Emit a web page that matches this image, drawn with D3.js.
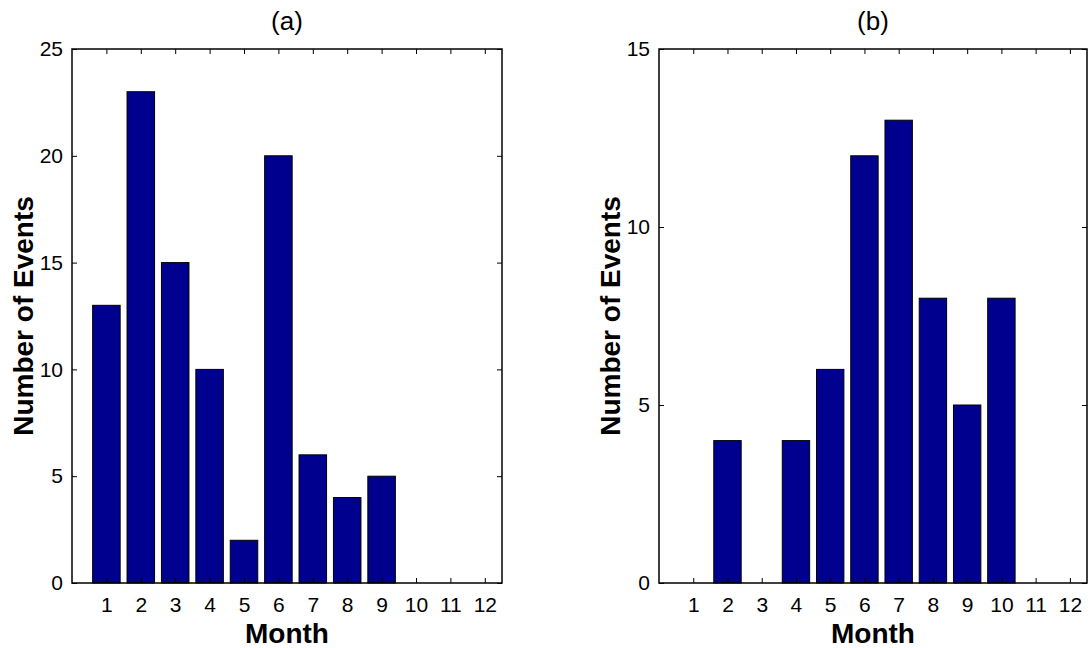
<!DOCTYPE html>
<html>
<head>
<meta charset="utf-8">
<script src="https://cdn.jsdelivr.net/npm/d3@7"></script>
<style>
  body { margin: 0; background: #fff; }
  svg { display: block; font-family: Arial, "Liberation Sans", Helvetica, sans-serif; }
</style>
</head>
<body>
<div id="chart"></div>
<script>
// data
const months = [1, 2, 3, 4, 5, 6, 7, 8, 9, 10, 11, 12];
const eventsA = [13, 23, 15, 10, 2, 20, 6, 4, 5, 0, 0, 0];
const eventsB = [0, 4, 0, 4, 6, 12, 13, 8, 5, 8, 0, 0];
const yTicksA = [0, 5, 10, 15, 20, 25];
const yTicksB = [0, 5, 10, 15];
const titles = ["(a)", "(b)"];

const width = 1091, height = 648;
const svg = d3.select("#chart").append("svg")
  .attr("width", width)
  .attr("height", height);

// one panel = one matlab-ish bar chart
function panel(opts) {
  const x = d3.scaleLinear().domain([0, 12.5]).range([opts.left, opts.right]);
  const y = d3.scaleLinear().domain([0, opts.ymax]).range([opts.bottom, opts.top]);
  const g = svg.append("g");
  const bw = x(0.8) - x(0);

  // bars
  g.selectAll(".bar").data(opts.values).enter().append("rect")
    .attr("x", (d, i) => x(months[i]) - bw / 2)
    .attr("y", d => y(d))
    .attr("width", bw)
    .attr("height", d => y(0) - y(d))
    .attr("fill", "#00008f")
    .attr("stroke", d => d === 0 ? "#777" : "#000")
    .attr("stroke-width", 1);

  const tl = 5;
  // axes: bottom/left with labels, top/right only ticks
  const xb = d3.axisBottom(x).tickValues(months).tickSize(-tl).tickPadding(14).tickFormat(d3.format("d"));
  const xt = d3.axisTop(x).tickValues(months).tickSize(-tl).tickFormat("");
  const yl = d3.axisLeft(y).tickValues(opts.yticks).tickSize(-tl).tickPadding(9);
  const yr = d3.axisRight(y).tickValues(opts.yticks).tickSize(-tl).tickFormat("");

  const ax = [
    g.append("g").attr("transform", "translate(0," + opts.bottom + ")").call(xb),
    g.append("g").attr("transform", "translate(0," + opts.top + ")").call(xt),
    g.append("g").attr("transform", "translate(" + opts.left + ",0)").call(yl),
    g.append("g").attr("transform", "translate(" + opts.right + ",0)").call(yr)
  ];
  ax.forEach(a => {
    a.attr("font-size", 21).attr("font-family", null);
    a.select(".domain").remove();
    a.selectAll(".tick line").attr("stroke", "#000").attr("stroke-width", 1);
    a.selectAll("text").attr("fill", "#000");
  });

  // box
  g.append("rect")
    .attr("x", opts.left).attr("y", opts.top)
    .attr("width", opts.right - opts.left)
    .attr("height", opts.bottom - opts.top)
    .attr("fill", "none")
    .attr("stroke", "#000")
    .attr("stroke-width", 1.5);

  const cx = (opts.left + opts.right) / 2;
  g.append("text")
    .attr("x", cx).attr("y", 30)
    .attr("text-anchor", "middle")
    .attr("font-size", 26)
    .text(opts.title);

  g.append("text")
    .attr("x", cx).attr("y", 643)
    .attr("text-anchor", "middle")
    .attr("font-size", 28)
    .attr("font-weight", "bold")
    .text("Month");

  g.append("text")
    .attr("transform", "translate(" + opts.ylabelX + "," + ((opts.top + opts.bottom) / 2) + ") rotate(-90)")
    .attr("text-anchor", "middle")
    .attr("font-size", 28)
    .attr("font-weight", "bold")
    .text("Number of Events");
}

panel({ left: 72, right: 502, top: 49, bottom: 583, ymax: 25, yticks: yTicksA, values: eventsA, title: titles[0], ylabelX: 33 });
panel({ left: 659, right: 1087, top: 49, bottom: 583, ymax: 15, yticks: yTicksB, values: eventsB, title: titles[1], ylabelX: 620 });
</script>
</body>
</html>
